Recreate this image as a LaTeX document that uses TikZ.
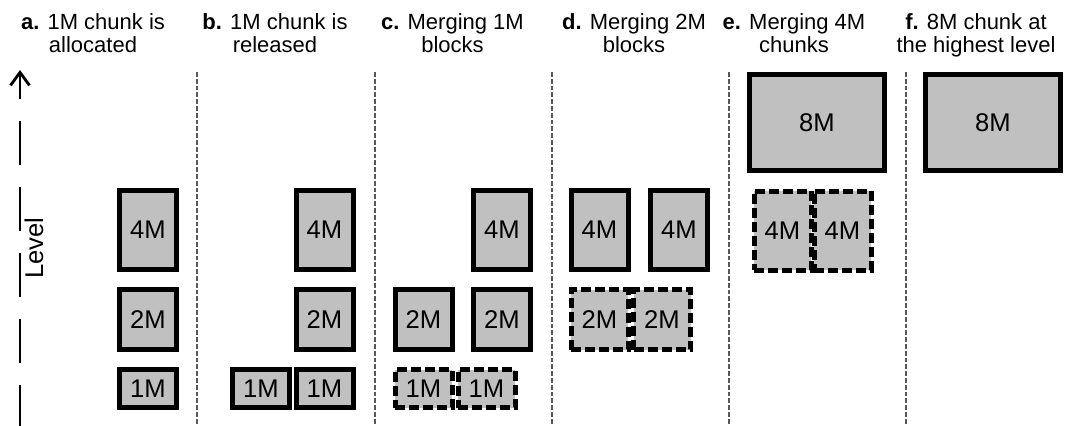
\documentclass[tikz,border=0pt]{standalone}
\usepackage{fontspec}
\setmainfont{Liberation Sans}
\usetikzlibrary{arrows.meta}
\definecolor{blockgray}{RGB}{192,192,192}

\begin{document}
\begin{tikzpicture}[x=0.5pt,y=-0.5pt,
    blk/.style={draw,line width=2.5pt,fill=blockgray,inner sep=0pt,font=\fontsize{12.8}{14}\selectfont},
    merged/.style={blk,dash pattern=on 5pt off 2pt},
    one/.style={minimum width=28.5pt,minimum height=19pt},
    two/.style={minimum width=28.5pt,minimum height=30pt},
    four/.style={minimum width=28.5pt,minimum height=39.5pt},
    eight/.style={minimum width=67.5pt,minimum height=48pt},
    title/.style={align=center,anchor=north,inner sep=0pt,font=\fontsize{11}{11.6}\selectfont},
    divider/.style={draw=gray!70!black,line width=0.7pt,dash pattern=on 2.4pt off 1pt}]
    \useasboundingbox (0,0) rectangle (1072,425);

    % titles
    \node[title] (ta) at (93,13) {\textbf{a.} 1M chunk is\\allocated};
    \node[title] (tb) at (275,13) {\textbf{b.} 1M chunk is\\released};
    \node[title] (tc) at (452.5,13) {\textbf{c.} Merging 1M\\blocks};
    \node[title] (td) at (634,13) {\textbf{d.} Merging 2M\\blocks};
    \node[title] (te) at (794,13) {\textbf{e.} Merging 4M\\chunks};
    \node[title] (tf) at (976,13) {\textbf{f.} 8M chunk at\\the highest level};

    % level axis
    \coordinate (axisbot) at (20,429);
    \coordinate (axistop) at (20,70);
    \draw[line width=1.4pt,dash pattern=on 22pt off 11pt,-{Straight Barb[length=6.5pt,width=9.5pt]}] (axisbot) -- (axistop);
    \node[rotate=90,font=\fontsize{12.8}{14}\selectfont] (level) at (34,248) {Level};

    % column dividers
    \foreach \x in {197,375,552,729,906}
        \draw[divider] (\x,72) -- (\x,425);

    % a
    \node[blk,four] (a4) at (148,230) {4M};
    \node[blk,two] (a2) at (148,319.5) {2M};
    \node[blk,one] (a1) at (148,388.5) {1M};
    % b
    \node[blk,four] (b4) at (324.5,230) {4M};
    \node[blk,two] (b2) at (324.5,319.5) {2M};
    \node[blk,one] (b1l) at (261,388.5) {1M};
    \node[blk,one] (b1r) at (324.5,388.5) {1M};
    % c
    \node[blk,four] (c4) at (502,230) {4M};
    \node[blk,two] (c2l) at (423.5,319.5) {2M};
    \node[blk,two] (c2r) at (502,319.5) {2M};
    \node[merged,one] (c1l) at (423.5,388.5) {1M};
    \node[merged,one] (c1r) at (486.5,388.5) {1M};
    % d
    \node[blk,four] (d4l) at (599.5,230) {4M};
    \node[blk,four] (d4r) at (679,230) {4M};
    \node[merged,two] (d2l) at (599.5,319.5) {2M};
    \node[merged,two] (d2r) at (662,319.5) {2M};
    % e
    \node[blk,eight] (e8) at (817,122.5) {8M};
    \node[merged,four] (e4l) at (782.5,230.5) {4M};
    \node[merged,four] (e4r) at (842.5,230.5) {4M};
    % f
    \node[blk,eight] (f8) at (993,122.5) {8M};
\end{tikzpicture}
\end{document}
